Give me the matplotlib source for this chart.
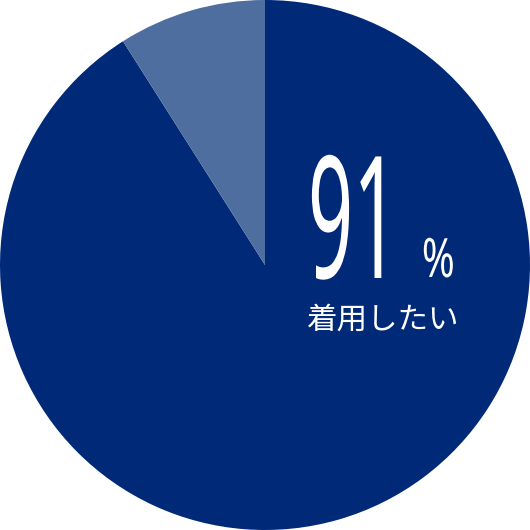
import matplotlib.pyplot as plt
from matplotlib.patheffects import AbstractPathEffect
from matplotlib.transforms import Affine2D

# data
labels = ["着用したい", "その他"]
values = [91, 9]
colors = ["#002a78", "#4f6ea0"]
value_text = "91"
unit_text = "%"
label_text = "着用したい"


class Stretch(AbstractPathEffect):
    # tall stretch around the baseline to imitate a condensed font
    def __init__(self, sx, sy):
        super().__init__()
        self.sx = sx
        self.sy = sy

    def draw_path(self, renderer, gc, tpath, affine, rgbFace=None):
        renderer.draw_path(gc, tpath, Affine2D().scale(self.sx, self.sy) + affine, rgbFace)


fig = plt.figure(figsize=(5.3, 5.3), dpi=100)
ax = fig.add_axes([0, 0, 1, 1])
ax.pie(values, colors=colors, startangle=90, counterclock=False, radius=1,
       wedgeprops=dict(linewidth=0, antialiased=True))
ax.set_xlim(-1, 1)
ax.set_ylim(-1, 1)
ax.set_aspect("equal")
ax.axis("off")

ax.text(0.162, -0.049, value_text, color="white", fontsize=57, family="Noto Sans",
        ha="left", va="baseline", path_effects=[Stretch(1.0, 2.15)])
ax.text(0.592, -0.045, unit_text, color="white", fontsize=30, family="Noto Sans",
        ha="left", va="baseline", path_effects=[Stretch(0.95, 1.3)])
ax.text(0.158, -0.208, label_text, color="white", fontsize=22,
        family=["Noto Sans CJK JP", "DejaVu Sans"], ha="left", va="center")

fig.savefig("out.png", dpi=100)
